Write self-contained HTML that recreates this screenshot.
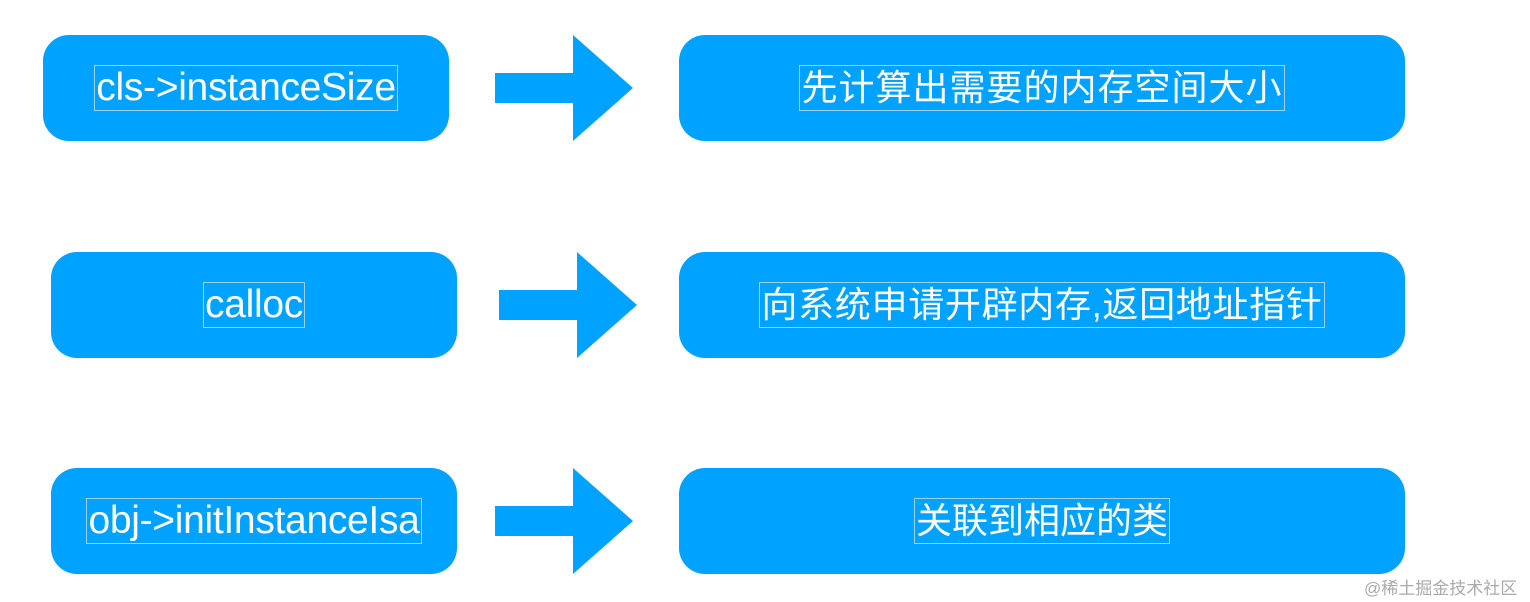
<!DOCTYPE html>
<html><head><meta charset="utf-8"><style>
body{margin:0;width:1530px;height:602px;background:#fff;position:relative;overflow:hidden;font-family:"Liberation Sans","Noto Sans CJK SC",sans-serif}
.b{position:absolute;background:#00a2ff;border-radius:26px;display:flex;align-items:center;justify-content:center}
.t{color:#fff;border:1px solid rgba(200,220,235,0.8);line-height:1.2;white-space:nowrap;padding:0 1px}
.l{font-size:39px;letter-spacing:-0.3px;line-height:1.12}
.c{font-size:36px}
svg{position:absolute;left:0;top:0}
.wm{position:absolute;left:1364px;top:574px;font-size:17px;color:#aaa;font-family:"Liberation Sans","Noto Sans CJK SC",sans-serif}
</style></head><body>
<svg width="1530" height="602">
<polygon fill="#00a2ff" points="495,73 573,73 573,35 633,88 573,141 573,103 495,103"/>
<polygon fill="#00a2ff" points="499,290 577,290 577,252 637,305 577,358 577,320 499,320"/>
<polygon fill="#00a2ff" points="495,506 573,506 573,468 633,521 573,574 573,536 495,536"/>
</svg>
<div class="b" style="left:43px;top:35px;width:406px;height:106px"><span class="t l">cls-&gt;instanceSize</span></div>
<div class="b" style="left:51px;top:252px;width:406px;height:106px"><span class="t l">calloc</span></div>
<div class="b" style="left:51px;top:468px;width:406px;height:106px"><span class="t l">obj-&gt;initInstanceIsa</span></div>
<div class="b" style="left:679px;top:35px;width:726px;height:106px"><span class="t c" style="letter-spacing:1px">先计算出需要的内存空间大小</span></div>
<div class="b" style="left:679px;top:252px;width:726px;height:106px"><span class="t c" style="letter-spacing:0.7px">向系统申请开辟内存,返回地址指针</span></div>
<div class="b" style="left:679px;top:468px;width:726px;height:106px"><span class="t c">关联到相应的类</span></div>
<div class="wm">@稀土掘金技术社区</div>
</body></html>
